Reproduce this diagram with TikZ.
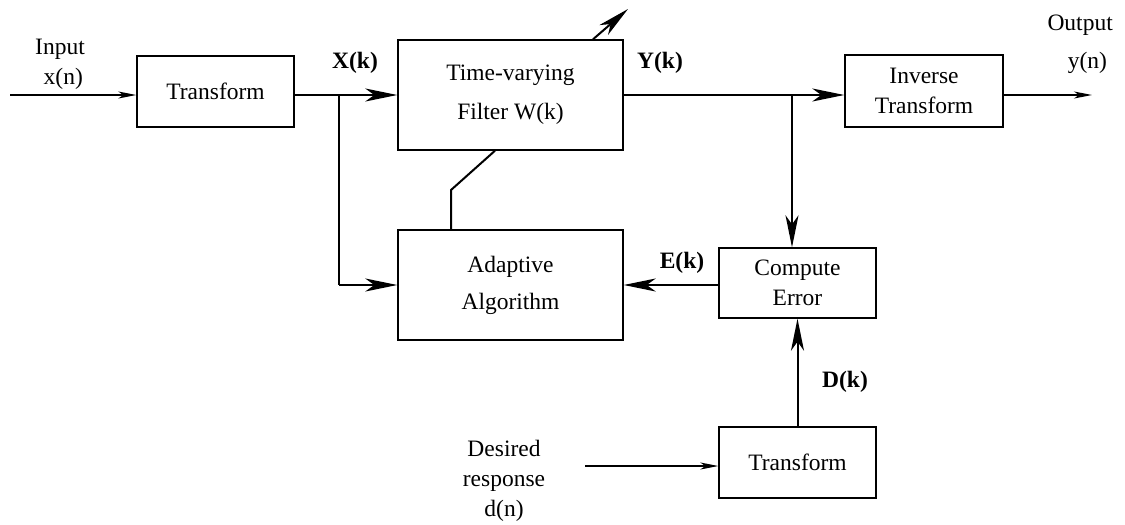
\documentclass[tikz,border=0pt]{standalone}
\usepackage{fontspec}
\setmainfont{Liberation Serif}
\usetikzlibrary{arrows.meta}
\begin{document}
\begin{tikzpicture}[x=1pt,y=-1pt,
  every node/.style={font=\fontsize{23.5pt}{30pt}\selectfont, inner sep=0pt},
  blockbox/.style={draw, line width=1.4pt, align=center},
  lbl/.style={font=\fontsize{23.5pt}{30pt}\selectfont\bfseries},
  txt/.style={align=center},
  thinline/.style={line width=1.2pt, -{Stealth[length=18pt,width=7pt,inset=5pt]}},
  thickline/.style={line width=2pt, -{Stealth[length=32pt,width=13pt,inset=9pt]}},
  plainline/.style={line width=2pt}]
\useasboundingbox (0,0) rectangle (1125,525);

% blocks
\node[blockbox, minimum width=157pt, minimum height=71pt] (t1) at (215.5,91.5) {Transform};
\node[blockbox, minimum width=225pt, minimum height=110pt] (filt) at (510.5,95) {Time-varying\\[9pt]Filter W(k)};
\node[blockbox, minimum width=225pt, minimum height=110pt] (adapt) at (510.5,285) {Adaptive\\[7pt]Algorithm};
\node[blockbox, minimum width=158pt, minimum height=72pt] (inv) at (924,91) {Inverse\\Transform};
\node[blockbox, minimum width=157pt, minimum height=70pt] (ce) at (797.5,283) {Compute\\Error};
\node[blockbox, minimum width=157pt, minimum height=71pt] (t2) at (797.5,462.5) {Transform};

% external texts
\node[txt] (inp) at (60,64) {Input\\\hphantom{i}x(n)};
\node[align=right, anchor=east] (outp) at (1113,44) {Output\\[8pt]y(n)\hphantom{.}};
\node[txt] (des) at (504,481) {Desired\\response\\d(n)};

% signal labels
\node[lbl] (xk) at (355,63) {X(k)};
\node[lbl] (yk) at (660,63) {Y(k)};
\node[lbl] (ek) at (682,263) {E(k)};
\node[lbl] (dk) at (845,382) {D(k)};

% branch points and free ends
\coordinate (xb) at (339,95);
\coordinate (yb) at (792,95);
\coordinate (inpstart) at (10,95);
\coordinate (outend) at (1092,95);
\coordinate (desstart) at (585,466);
\coordinate (tune) at (628,9);

% connectors
\draw[thinline] (inpstart) -- (inpstart -| t1.west);
\draw[thickline] (t1.east |- xb) -- (xb -| filt.west);
\draw[plainline] (xb) -- (xb |- adapt.west);
\draw[thickline] (xb |- adapt.west) -- (adapt.west);
\draw[thickline] (filt.east) -- (filt.east -| inv.west);
\draw[thickline] (yb) -- (yb |- ce.north);
\draw[thinline] (inv.east |- outend) -- (outend);
\draw[thickline] (ce.west |- 0,285) -- (adapt.east |- 0,285);
\draw[thickline] (t2.north) -- (ce.south);
\draw[thinline] (desstart) -- (desstart -| t2.west);
\draw[plainline] (adapt.north -| 451,0) -- (451,190) -- (filt.south -| 495,0);
\draw[thickline] (filt.north -| 593,0) -- (tune);
\end{tikzpicture}
\end{document}
